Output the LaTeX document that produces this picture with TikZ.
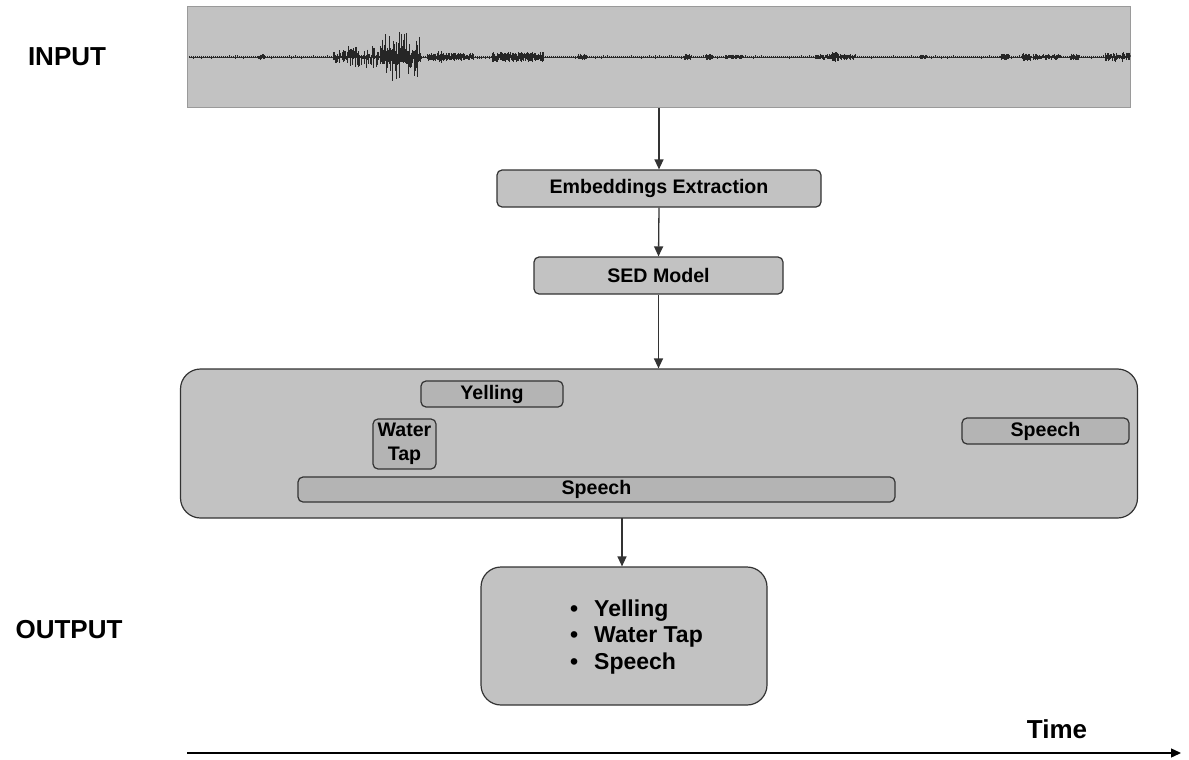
\documentclass[tikz,border=0pt]{standalone}
\usepackage{fontspec}
\setmainfont{Liberation Sans}
\usetikzlibrary{arrows.meta}
\definecolor{boxfill}{HTML}{C2C2C2}
\definecolor{barfill}{HTML}{B4B4B4}
\definecolor{edge}{HTML}{333333}
\definecolor{waveedge}{HTML}{9A9A9A}
\tikzset{
  x=1pt, y=-1pt,
  lbl/.style={font=\fontsize{19.6}{23}\selectfont\bfseries, text=black},
  panel/.style={draw=edge, line width=1.2pt, fill=boxfill, rounded corners=5pt, inner sep=0pt, lbl, align=center},
  bigpanel/.style={panel, rounded corners=20pt},
  bar/.style={panel, fill=barfill},
  tip/.style={-{Triangle[length=10pt,width=9pt]}},
  arr/.style={draw=edge, line width=1.3pt, tip},
  side/.style={font=\fontsize{26}{30}\selectfont\bfseries},
  wav/.style={line width=0.7pt, draw=black!85}
}
\begin{document}
\begin{tikzpicture}
\useasboundingbox (0,0) rectangle (1189,760);

% side labels
\node[side] (inlbl) at (67,57) {INPUT};
\node[side] (outlbl) at (69,630) {OUTPUT};

% audio waveform panel
\node[draw=waveedge, line width=1pt, fill=boxfill, minimum width=943pt, minimum height=100pt, inner sep=0pt] (wave) at (658.5,57) {};
\begin{scope}
  \clip (wave.south west) rectangle (wave.north east);
  \pgfmathsetseed{12}
  \draw[line width=0.8pt, draw=black!80] (189,57) -- (1130,57);
  \foreach \x in {189,191,...,1129} {
    \pgfmathsetmacro\u{0.5+1.1*rnd}
    \pgfmathsetmacro\d{0.5+1.1*rnd}
    \draw[wav] (\x,57-\u) -- (\x,57+\d);
  }
  \foreach \a/\b/\m/\k in {
      258/264/3/0.4, 333/345/7/1.2, 346/378/11/1.5, 380/420/25/1.8, 380/420/8/0.4,
      427/473/4/0.4, 437/441/6/0.5, 492/543/5/0.4, 578/586/3.5/0.4,
      684/690/3/0.4, 706/712/3/0.4, 725/742/2.5/0.5, 815/855/3/0.5, 832/838/5/0.4,
      920/926/2.5/0.4, 1000/1008/3/0.4, 1022/1030/4/0.4, 1033/1060/3/0.6,
      1070/1078/3.5/0.4, 1105/1130/5/0.7} {
    \foreach \x in {\a,...,\b} {
      \pgfmathsetmacro\u{\m*pow(rnd,\k)}
      \pgfmathsetmacro\d{\m*pow(rnd,\k)}
      \draw[wav, line width=0.8pt] (\x,57-\u) -- (\x,57+\d);
    }
  }
\end{scope}

% processing chain
\node[panel, minimum width=324pt, minimum height=37pt] (emb) at (659,188.5) {Embeddings Extraction};
\node[panel, minimum width=249pt, minimum height=37pt] (sed) at (658.5,275.5) {SED Model};

% detection timeline
\node[bigpanel, minimum width=957pt, minimum height=149pt] (det) at (659,443.5) {};
\node[bar, minimum width=142pt, minimum height=26pt] (yell) at (492,394) {Yelling};
\node[bar, minimum width=63pt, minimum height=50pt, font=\fontsize{19.6}{24}\selectfont\bfseries] (tap) at (404.5,444) {Water\\Tap};
\node[bar, minimum width=597pt, minimum height=25pt] (sp1) at (596.5,489.5) {Speech};
\node[bar, minimum width=167pt, minimum height=26pt] (sp2) at (1045.5,431) {Speech};

% result list
\node[bigpanel, minimum width=286pt, minimum height=138pt] (out) at (624,636) {};
\node[anchor=west, align=left, inner sep=0pt, font=\fontsize{23}{26.5}\selectfont\bfseries] (items) at (570,637)
  {\makebox[24pt][l]{\textbullet}Yelling\\\makebox[24pt][l]{\textbullet}Water Tap\\\makebox[24pt][l]{\textbullet}Speech};

% connectors
\draw[arr] (wave.south -| emb.north) -- (emb.north);
\draw[arr] (emb.south) -- (sed.north);
\draw[arr] (sed.south) -- (sed.south |- det.north);
\coordinate (detout) at (622,518);
\draw[arr] (detout) -- (detout |- out.north);

% time axis
\coordinate (t0) at (187,753);
\coordinate (t1) at (1181,753);
\draw[line width=1.3pt, tip] (t0) -- (t1);
\node[side] (time) at (1057,729) {Time};
\end{tikzpicture}
\end{document}
